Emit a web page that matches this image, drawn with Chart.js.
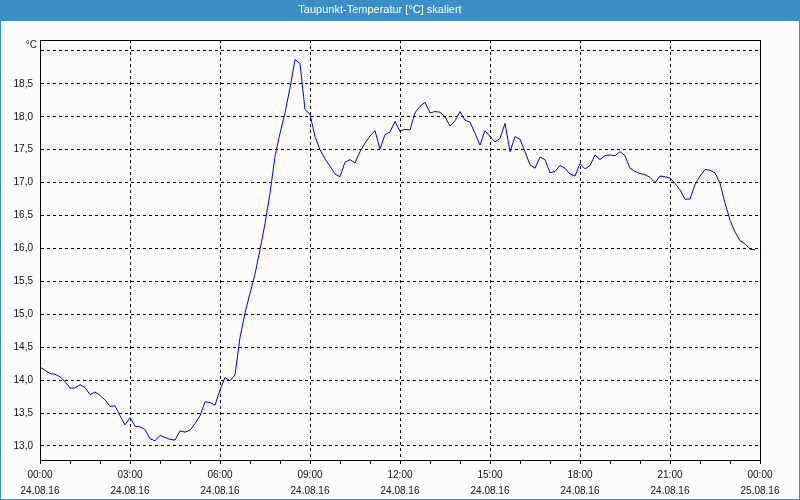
<!DOCTYPE html>
<html>
<head>
<meta charset="utf-8">
<script src="https://cdn.jsdelivr.net/npm/chart.js@4.4.1/dist/chart.umd.min.js"></script>
<style>
    html, body { margin: 0; padding: 0; background: #fbfcfb; }
    canvas { display: block; }
</style>
</head>
<body>
<canvas id="dewChart" width="800" height="500"></canvas>
<script>
// Taupunkt readings, one every 10 minutes from 24.08.16 00:00
const dewPoint = [
    14.20, 14.15, 14.10, 14.09, 14.05, 13.98, 13.88, 13.88, 13.93, 13.89,
    13.78, 13.82, 13.77, 13.70, 13.60, 13.61, 13.46, 13.32, 13.43, 13.30,
    13.29, 13.25, 13.11, 13.08, 13.16, 13.13, 13.10, 13.09, 13.23, 13.21,
    13.24, 13.34, 13.46, 13.67, 13.66, 13.62, 13.85, 14.04, 13.99, 14.08,
    14.65, 15.02, 15.32, 15.61, 15.98, 16.38, 16.84, 17.40, 17.75, 18.06,
    18.44, 18.87, 18.81, 18.11, 18.04, 17.70, 17.50, 17.36, 17.25, 17.13,
    17.09, 17.31, 17.35, 17.30, 17.47, 17.60, 17.71, 17.79, 17.51, 17.73,
    17.77, 17.93, 17.78, 17.81, 17.80, 18.06, 18.16, 18.22, 18.06, 18.08,
    18.07, 18.00, 17.86, 17.94, 18.08, 17.95, 17.92, 17.75, 17.57, 17.79,
    17.70, 17.62, 17.67, 17.90, 17.47, 17.70, 17.66, 17.47, 17.27, 17.22,
    17.39, 17.35, 17.15, 17.17, 17.26, 17.22, 17.13, 17.10, 17.29, 17.21,
    17.26, 17.42, 17.35, 17.41, 17.42, 17.41, 17.47, 17.41, 17.22, 17.17,
    17.14, 17.12, 17.08, 17.00, 17.10, 17.09, 17.07, 16.99, 16.89, 16.75,
    16.75, 16.97, 17.10, 17.20, 17.19, 17.15, 16.99, 16.69, 16.43, 16.25,
    16.12, 16.07, 15.99, 15.98
];
const sampleStep = 10; // minutes

const xTickTimes = ['00:00', '03:00', '06:00', '09:00', '12:00', '15:00', '18:00', '21:00', '00:00'];
const xTickDates = ['24.08.16', '24.08.16', '24.08.16', '24.08.16', '24.08.16', '24.08.16', '24.08.16', '24.08.16', '25.08.16'];
const yTicks = [13.0, 13.5, 14.0, 14.5, 15.0, 15.5, 16.0, 16.5, 17.0, 17.5, 18.0, 18.5, 19.0];
const yLabelMax = 18.5; // gridline at 19.0 carries no label

const titleText = 'Taupunkt-Temperatur [°C] skaliert';
const unitText = '°C';

const blue = '#3c8fc6';
const labelFont = { family: 'Liberation Sans', size: 10 };

// frame, title bar and unit label
const framePlugin = {
    id: 'framePlugin',
    beforeDraw(chart)
    {
        const { ctx, width, height } = chart;
        ctx.save();
        ctx.fillStyle = '#fbfcfb';
        ctx.fillRect(0, 0, width, height);
        ctx.fillStyle = blue;
        ctx.fillRect(0, 0, width, 21);
        ctx.strokeStyle = blue;
        ctx.lineWidth = 1;
        ctx.strokeRect(0.5, 0.5, width - 1, height - 1);
        ctx.restore();
    },
    afterDraw(chart)
    {
        const { ctx, chartArea: { left, top, right, bottom } } = chart;
        ctx.save();
        ctx.strokeStyle = '#000';
        ctx.lineWidth = 1;
        ctx.strokeRect(Math.round(left) + 0.5, Math.round(top) + 0.5, Math.round(right - left), Math.round(bottom - top));
        ctx.fillStyle = '#111';
        ctx.font = '10px "Liberation Sans"';
        ctx.textAlign = 'right';
        ctx.textBaseline = 'middle';
        ctx.fillText(unitText, left - 3, top + 5);
        ctx.restore();
    }
};

var ctx = document.getElementById('dewChart').getContext('2d');

new Chart(ctx, {
    type: 'line',
    data: {
        datasets: [{
            label: titleText,
            data: dewPoint.map((v, i) => ({ x: i * sampleStep, y: v })),
            borderColor: '#0000ff',
            borderWidth: 1,
            pointRadius: 0,
            tension: 0,
            fill: false
        }]
    },
    options: {
        responsive: false,
        animation: false,
        devicePixelRatio: 1,
        layout: { padding: { left: 0, right: 40, top: 0, bottom: 0 } },
        plugins: {
            legend: { display: false },
            tooltip: { enabled: false },
            title: {
                display: true,
                text: titleText,
                color: '#ffffff',
                font: { family: 'Liberation Sans', size: 11, weight: 'normal' },
                padding: { top: 3, bottom: 23.8 }
            }
        },
        scales: {
            x: {
                type: 'linear',
                min: 0,
                max: 1440,
                afterFit(scale) { scale.height = 40; },
                ticks: {
                    stepSize: 60,
                    autoSkip: false,
                    maxRotation: 0,
                    padding: 3,
                    color: '#111',
                    font: { family: 'Liberation Sans', size: 10, lineHeight: 1.6 },
                    callback: function (value)
                    {
                        if (value % 180 !== 0) return '';
                        const idx = value / 180;
                        return [xTickTimes[idx], xTickDates[idx]];
                    }
                },
                grid: {
                    color: (c) => (c.tick && c.tick.value % 180 === 0) ? '#000' : 'rgba(0,0,0,0)',
                    tickColor: '#000',
                    tickLength: 4,
                    drawTicks: true
                },
                border: { color: '#000', dash: [3, 3] }
            },
            y: {
                min: 12.787,
                max: 19.167,
                afterFit(scale) { scale.width = 40; },
                afterBuildTicks(scale) { scale.ticks = yTicks.map(v => ({ value: v })); },
                ticks: {
                    padding: 7,
                    color: '#111',
                    font: labelFont,
                    callback: (value) => value > yLabelMax ? '' : value.toFixed(1).replace('.', ',')
                },
                grid: {
                    color: '#000',
                    drawTicks: false
                },
                border: { color: '#000', dash: [3, 3] }
            }
        }
    },
    plugins: [framePlugin]
});
</script>
</body>
</html>
